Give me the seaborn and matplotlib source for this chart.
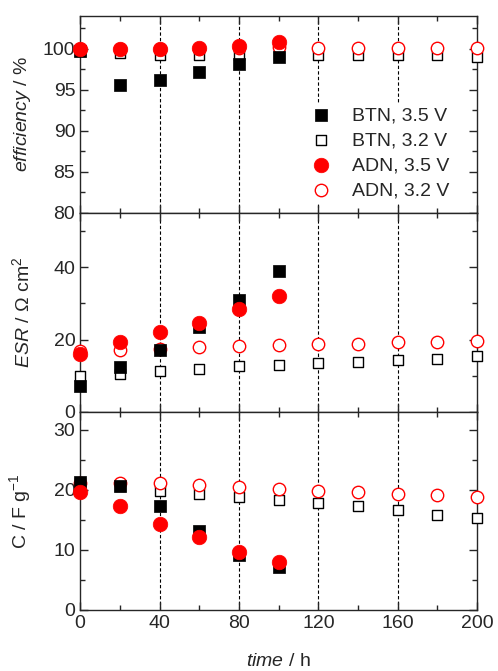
import numpy as np
import pandas as pd
import matplotlib
matplotlib.use('Agg')
import matplotlib.pyplot as plt
from matplotlib.ticker import MultipleLocator
import seaborn as sns

sns.set_style('ticks')
plt.rcParams['font.family'] = ['Liberation Sans', 'DejaVu Sans']
plt.rcParams['mathtext.fontset'] = 'custom'
plt.rcParams['mathtext.rm'] = 'Liberation Sans'
plt.rcParams['mathtext.it'] = 'Liberation Sans:italic'
plt.rcParams['font.size'] = 14

# time / h
time_short = [0, 20, 40, 60, 80, 100]
time_long = [0, 20, 40, 60, 80, 100, 120, 140, 160, 180, 200]

# coulombic efficiency / %
eff_btn35 = [99.8, 95.6, 96.2, 97.2, 98.1, 99.0]
eff_btn32 = [99.8, 99.5, 99.2, 99.2, 99.3, 99.3, 99.2, 99.2, 99.2, 99.2, 99.0]
eff_adn35 = [100.0, 100.0, 100.0, 100.1, 100.4, 100.8]
eff_adn32 = [100.0, 100.0, 100.0, 100.0, 100.1, 100.2, 100.1, 100.1, 100.1, 100.1, 100.1]

# ESR / Ohm cm2
esr_btn35 = [7.2, 12.3, 17.2, 23.5, 30.8, 39.0]
esr_btn32 = [10.0, 10.5, 11.4, 12.0, 12.8, 13.1, 13.5, 13.9, 14.3, 14.7, 15.4]
esr_adn35 = [16.1, 19.2, 22.2, 24.5, 28.3, 31.9]
esr_adn32 = [16.8, 17.0, 17.4, 17.8, 18.1, 18.4, 18.7, 18.9, 19.2, 19.4, 19.7]

# capacitance / F g-1
cap_btn35 = [21.3, 20.6, 17.3, 13.2, 9.2, 7.2]
cap_btn32 = [21.1, 20.7, 19.9, 19.4, 18.8, 18.4, 17.8, 17.3, 16.6, 15.9, 15.3]
cap_adn35 = [19.7, 17.3, 14.3, 12.1, 9.6, 8.0]
cap_adn32 = [21.2, 21.2, 21.1, 20.8, 20.5, 20.2, 19.9, 19.6, 19.4, 19.1, 18.9]

labels = ['BTN, 3.5 V', 'BTN, 3.2 V', 'ADN, 3.5 V', 'ADN, 3.2 V']

fig = plt.figure(figsize=(4.98, 6.71), dpi=100)
left, right = 0.161, 0.958
bounds = [0.976, 0.683, 0.386, 0.091]
axes = []
for i in range(3):
    ax = fig.add_axes([left, bounds[i + 1], right - left, bounds[i] - bounds[i + 1]])
    axes.append(ax)

panels = [
    (eff_btn35, eff_btn32, eff_adn35, eff_adn32),
    (esr_btn35, esr_btn32, esr_adn35, esr_adn32),
    (cap_btn35, cap_btn32, cap_adn35, cap_adn32),
]

for ax, (b35, b32, a35, a32) in zip(axes, panels):
    for xv in [40, 80, 120, 160]:
        ax.axvline(xv, color='black', ls=(0, (3, 2)), lw=0.8, zorder=0)
    sns.scatterplot(x=time_long, y=b32, ax=ax, marker='s', s=60, color='white',
                    edgecolor='black', linewidth=1.0, label=labels[1], zorder=3, clip_on=False)
    sns.scatterplot(x=time_long, y=a32, ax=ax, marker='o', s=80, color='white',
                    edgecolor='red', linewidth=1.0, label=labels[3], zorder=3, clip_on=False)
    sns.scatterplot(x=time_short, y=b35, ax=ax, marker='s', s=70, color='black',
                    edgecolor='black', linewidth=0.5, label=labels[0], zorder=4, clip_on=False)
    sns.scatterplot(x=time_short, y=a35, ax=ax, marker='o', s=110, color='red',
                    edgecolor='red', linewidth=0.5, label=labels[2], zorder=5, clip_on=False)
    ax.set_xlim(0, 200)
    ax.xaxis.set_major_locator(MultipleLocator(40))
    ax.xaxis.set_minor_locator(MultipleLocator(20))
    ax.tick_params(which='both', direction='in', top=True, right=True, labelsize=14)
    ax.tick_params(which='major', length=6, width=1)
    ax.tick_params(which='minor', length=3.5, width=1)
    for sp in ax.spines.values():
        sp.set_linewidth(1.0)
    if ax is not axes[-1]:
        ax.tick_params(labelbottom=False)
    if ax is not axes[0]:
        ax.get_legend().remove()

axes[0].set_ylim(80, 104)
axes[0].set_yticks([80, 85, 90, 95, 100])
axes[0].yaxis.set_minor_locator(MultipleLocator(2.5))
axes[0].set_ylabel(r'$\it{efficiency}$ / %')

axes[1].set_ylim(0, 55)
axes[1].set_yticks([0, 20, 40])
axes[1].yaxis.set_minor_locator(MultipleLocator(10))
axes[1].set_ylabel(r'$\it{ESR}$ / $\Omega$ cm$^2$')

axes[2].set_ylim(0, 33)
axes[2].set_yticks([0, 10, 20, 30])
axes[2].yaxis.set_minor_locator(MultipleLocator(5))
axes[2].set_ylabel(r'C / F g$^{-1}$')
axes[2].set_xlabel(r'$\it{time}$ / h', labelpad=15)

for ax in axes:
    ax.yaxis.set_label_coords(-0.118, 0.5)

h, l = axes[0].get_legend_handles_labels()
order = [l.index(t) for t in labels]
leg = axes[0].legend([h[i] for i in order], labels, loc='lower right',
                     bbox_to_anchor=(0.965, 0.0), frameon=True, facecolor='white',
                     edgecolor='none', framealpha=1, fontsize=14, labelspacing=0.38,
                     handletextpad=1.0, borderpad=0.2, handlelength=1.2)
leg.get_frame().set_boxstyle('square', pad=0)

fig.savefig('out.png', dpi=100)
